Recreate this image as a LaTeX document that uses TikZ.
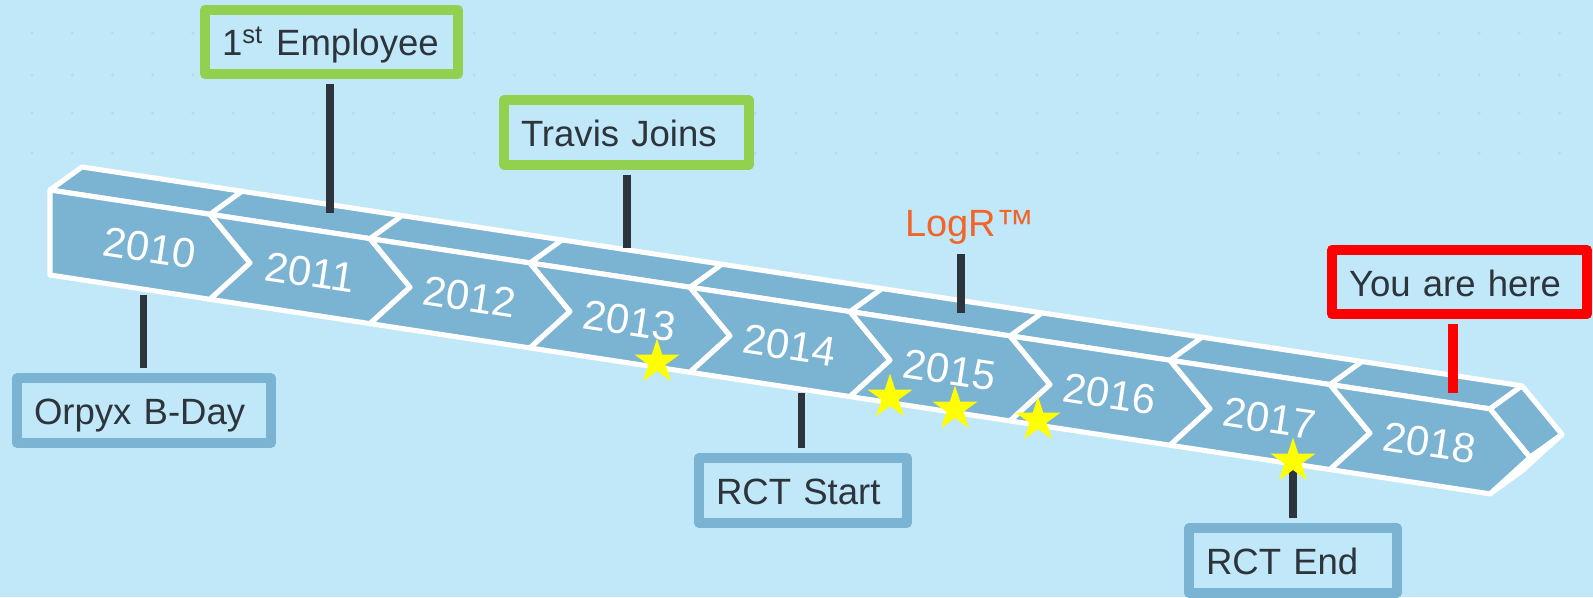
\documentclass[tikz,border=0pt]{standalone}
\usepackage{fontspec}
\setmainfont{Liberation Sans}
\usetikzlibrary{shapes.geometric}
\definecolor{sky}{HTML}{C0E8F8}
\definecolor{bar}{HTML}{7BB3D3}
\definecolor{ink}{HTML}{2D343B}
\definecolor{gn}{HTML}{92D050}
\definecolor{rd}{HTML}{FF0000}
\definecolor{or}{HTML}{F2642A}
\definecolor{yl}{HTML}{FFFF00}
\tikzset{
  face/.style={fill=bar,draw=white,line width=1.45pt,line join=round},
  seam/.style={draw=white,line width=1.45pt,line cap=round},
  year/.style={text=white,font=\fontsize{11.9}{14}\selectfont,rotate=-8.6,inner sep=0pt},
  tag/.style={draw=#1,fill=sky,line width=2.85pt,line join=round,inner xsep=0.17cm,inner ysep=0pt,minimum height=0.645cm,text height=0.28cm,text depth=0pt,align=left,font=\fontsize{10.4}{12}\selectfont,text=ink},
  stem/.style={draw=ink,line width=2.1pt,shorten <=1.4pt},
  stemred/.style={stem,draw=rd,line width=2.6pt},
  starmark/.style={star,star points=5,star point ratio=2.618,minimum size=0.47cm,inner sep=0pt,fill=yl},
  logo/.style={text=or,font=\fontsize{10.8}{13}\selectfont,inner sep=1pt},
  griddot/.style={fill=bar,opacity=0.2}
}

\begin{document}
\begin{tikzpicture}[x=1cm,y=1cm]
\useasboundingbox (0,0) rectangle (15.93,5.97);
% ================= backdrop =================
\fill[sky] (0,0) rectangle (15.93,5.97);
\foreach \r in {5.64,5.22,4.84,4.44}{\foreach \c in {0,...,38}{\fill[griddot] (0.32+0.402*\c,\r) circle (0.016);}}
% ================= the bar, slanted =================
\begin{scope}[cm={1,-0.152,0,1,(0.5,4.07)}]
  \draw[face] (0,0) -- (14.4,0) -- (14.72,0.279) -- (0.32,0.279) -- cycle;
  \foreach \i in {1,...,8}{\draw[seam] ({1.6*\i},0) -- ({1.6*\i+0.32},0.279);}
  % pointed end
  \draw[face] (14.4,0) -- (14.8,-0.425) -- (15.12,-0.146) -- (14.72,0.279) -- cycle;
  \draw[face] (14.8,-0.425) -- (14.4,-0.85) -- (14.72,-0.571) -- (15.12,-0.146) -- cycle;
  % front chevrons
  \draw[face] (0,0) -- (1.6,0) -- (2.0,-0.425) -- (1.6,-0.85) -- (0,-0.85) -- cycle;
  \foreach \i in {1,...,8}{\draw[face] ({1.6*\i},0) -- ({1.6*\i+1.6},0) -- ({1.6*\i+2.0},-0.425) -- ({1.6*\i+1.6},-0.85) -- ({1.6*\i},-0.85) -- ({1.6*\i+0.4},-0.425) -- cycle;}
\end{scope}
% years, set along the slope
\foreach \yr [count=\i from 0] in {2010,...,2018}{\node[year] (y\yr) at ({1.5+1.6*\i},{3.64-0.152*(1.0+1.6*\i)}) {\yr};}
% ================= milestones =================
\node[tag=bar,text width=2.20cm] (bday) at (1.44,1.865) {Orpyx B-Day};
\node[tag=gn,text width=2.19cm] (hire) at (3.315,5.55) {1\textsuperscript{st} Employee};
\node[tag=gn,text width=2.11cm] (travis) at (6.265,4.645) {Travis Joins};
\node[logo,anchor=base] (logr) at (9.70,3.60) {LogR™};
\node[tag=bar,text width=1.74cm] (rctA) at (8.03,1.065) {RCT Start};
\node[tag=bar,text width=1.74cm] (rctB) at (12.93,0.365) {RCT End};
\node[tag=rd,text width=2.21cm] (here) at (14.595,3.15) {You are here};
% where the stems meet the bar
\coordinate (pBday) at (1.435,3.02);
\coordinate (pHire) at (3.30,3.84);
\coordinate (pTravis) at (6.27,3.49);
\coordinate (pLogr) at (9.61,2.84);
\coordinate (pRctA) at (8.015,2.04);
\coordinate (pRctB) at (12.93,1.30);
\coordinate (pHere) at (14.53,2.04);
\draw[stem] (pBday |- bday.north) -- (pBday);
\draw[stem] (pHire |- hire.south) -- (pHire);
\draw[stem] (pTravis |- travis.south) -- (pTravis);
\draw[stem,line width=2.5pt] (pLogr |- logr.south) -- (pLogr);
\draw[stem] (pRctA |- rctA.north) -- (pRctA);
\draw[stem] (rctB.north) -- (pRctB);
\draw[stemred] (pHere |- here.south) -- (pHere);
% ================= stars along the lower edge =================
\foreach \x/\y [count=\k] in {6.57/2.35, 8.90/2.00, 9.55/1.88, 10.38/1.77, 12.93/1.36}{\node[starmark] (s\k) at (\x,\y) {};}
\end{tikzpicture}
\end{document}
